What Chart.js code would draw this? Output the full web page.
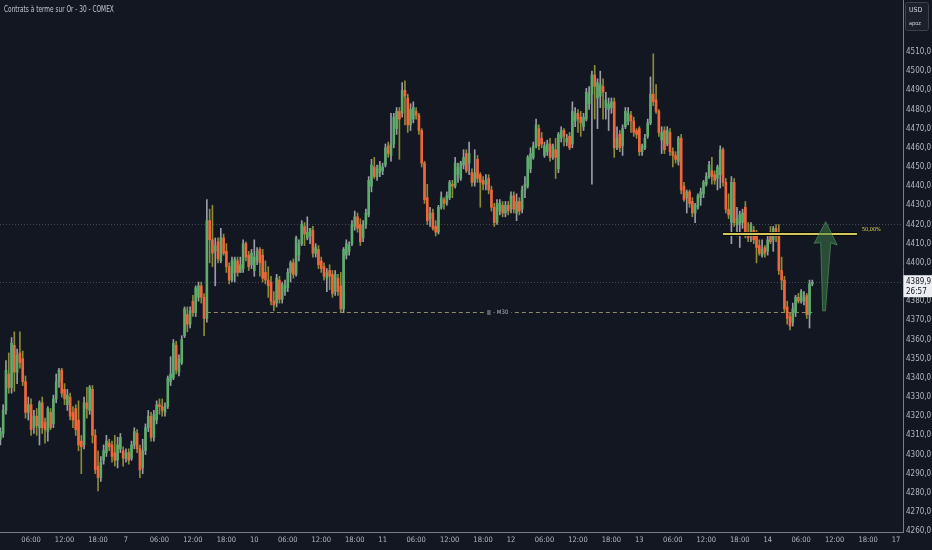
<!DOCTYPE html>
<html>
<head>
<meta charset="utf-8">
<script src="https://cdn.jsdelivr.net/npm/chart.js@4.4.1/dist/chart.umd.min.js"></script>
<style>
  html, body { margin: 0; padding: 0; background: #131722; }
  #wrap { position: relative; width: 932px; height: 550px; }
  #title {
    position: absolute; left: 4px; top: 5px;
    font: 8px "Liberation Sans Narrow", "DejaVu Sans Condensed", "Roboto", sans-serif;
    color: #c3c6ce;
    transform: scaleX(0.81);
    transform-origin: left top;
    white-space: nowrap;
  }
</style>
</head>
<body>
<div id="wrap">
  <canvas id="gold" width="932" height="550"></canvas>
  <div id="title">Contrats à terme sur Or - 30 - COMEX</div>
</div>
<script>
// 30 min candles, index 0 = first bar of the "6" session (46 bars per session)
var opens = [
  4315,4308,4311,4323,4342,4335,4357,4343,4353,4350, 4338,4322,4326,4314,4320,4314,4327,4317,4312,4322,
  4316,4329,4338,4344,4334,4326,4330,4322,4324,4318, 4307,4305,4327,4323,4334,4310,4294,4288,4297,4301,
  4306,4305,4301,4297,4303,4302,4298,4301,4298,4305, 4311,4303,4293,4302,4314,4320,4309,4318,4326,4325,
  4322,4325,4338,4340,4357,4343,4348,4362,4373,4368, 4380,4374,4382,4388,4382,4371,4422,4412,4406,4411,
  4401,4413,4406,4398,4391,4395,4401,4395,4397,4410, 4404,4399,4396,4401,4407,4404,4395,4391,4390,4380,
  4379,4391,4381,4385,4387,4395,4400,4394,4404,4410, 4419,4413,4414,4417,4405,4407,4401,4398,4392,4396,
  4394,4385,4392,4388,4376,4404,4406,4410,4419,4424, 4420,4413,4420,4425,4440,4450,4445,4447,4448,4451,
  4461,4456,4462,4470,4479,4478,4490,4486,4472,4475, 4479,4477,4469,4452,4434,4423,4426,4419,4416,4429,
  4433,4431,4434,4441,4440,4446,4444,4451,4457,4452, 4447,4442,4454,4446,4443,4441,4444,4438,4429,4421,
  4427,4430,4426,4430,4428,4435,4426,4432,4428,4438, 4440,4449,4455,4461,4470,4465,4456,4458,4462,4455,
  4459,4449,4465,4469,4463,4466,4462,4474,4478,4476, 4471,4475,4483,4488,4498,4486,4487,4492,4481,4480,
  4481,4484,4460,4467,4461,4471,4474,4477,4474,4469, 4470,4458,4460,4466,4473,4488,4485,4479,4464,4469,
  4462,4468,4458,4456,4453,4465,4440,4434,4437,4432, 4426,4429,4434,4436,4441,4445,4448,4446,4444,4446,
  4459,4442,4428,4421,4442,4420,4420,4421,4429,4416, 4414,4417,4415,4409,4404,4408,4406,4416,4412,4418,
  4416,4396,4391,4377,4372,4369,4374,4382,4380,4380, 4383,4373,4389
];
var highs = [
  4318,4314,4326,4349,4353,4361,4364,4355,4364,4354, 4341,4330,4329,4323,4324,4328,4330,4319,4325,4324,
  4331,4342,4345,4345,4337,4334,4332,4325,4326,4328, 4310,4330,4335,4336,4336,4313,4302,4299,4305,4310,
  4308,4307,4310,4309,4311,4304,4303,4303,4307,4314, 4313,4305,4308,4316,4323,4322,4323,4328,4329,4329,
  4327,4341,4351,4360,4359,4352,4362,4377,4377,4377, 4383,4388,4390,4390,4384,4433,4428,4430,4413,4413,
  4418,4415,4410,4400,4403,4403,4403,4403,4412,4411, 4406,4407,4412,4408,4408,4407,4401,4398,4393,4385,
  4394,4393,4390,4391,4397,4401,4402,4414,4412,4422, 4421,4424,4418,4419,4410,4409,4403,4400,4397,4399,
  4396,4396,4394,4395,4408,4412,4411,4422,4427,4426, 4423,4422,4428,4445,4454,4455,4451,4453,4452,4462,
  4463,4478,4478,4481,4481,4494,4495,4488,4483,4484, 4481,4478,4470,4453,4441,4429,4428,4422,4430,4437,
  4434,4437,4443,4443,4455,4452,4453,4459,4459,4463, 4449,4459,4456,4447,4445,4446,4446,4440,4431,4433,
  4433,4432,4432,4432,4437,4437,4436,4434,4440,4445, 4456,4460,4463,4475,4472,4468,4463,4464,4465,4462,
  4465,4468,4471,4470,4467,4468,4484,4481,4480,4479, 4478,4491,4492,4500,4503,4496,4500,4496,4489,4486,
  4486,4486,4471,4469,4472,4481,4481,4479,4476,4470, 4471,4462,4467,4475,4497,4509,4493,4480,4471,4471,
  4471,4470,4460,4458,4466,4467,4442,4438,4438,4434, 4431,4436,4439,4443,4447,4453,4455,4448,4451,4461,
  4460,4444,4436,4445,4444,4429,4427,4428,4432,4421, 4421,4419,4417,4412,4412,4409,4414,4419,4419,4420,
  4420,4403,4393,4380,4374,4379,4383,4384,4386,4385, 4384,4391,4391
];
var lows = [
  4306,4305,4309,4321,4332,4332,4333,4337,4345,4336, 4319,4318,4310,4311,4310,4305,4311,4306,4307,4313,
  4314,4327,4335,4330,4326,4323,4318,4314,4310,4302, 4290,4303,4319,4321,4306,4290,4281,4286,4295,4299,
  4302,4296,4294,4293,4301,4294,4296,4295,4297,4303, 4301,4288,4290,4300,4312,4307,4307,4316,4321,4320,
  4320,4324,4336,4339,4342,4341,4347,4361,4364,4366, 4372,4372,4380,4379,4362,4369,4400,4398,4388,4400,
  4400,4404,4395,4389,4390,4390,4393,4395,4395,4401, 4396,4397,4393,4399,4393,4390,4389,4382,4378,4375,
  4377,4379,4379,4383,4385,4390,4392,4393,4401,4409, 4409,4412,4410,4403,4403,4397,4395,4391,4385,4386,
  4382,4383,4383,4374,4374,4402,4404,4409,4417,4416, 4409,4411,4418,4424,4437,4444,4443,4445,4446,4450,
  4455,4453,4460,4467,4454,4476,4472,4468,4469,4473, 4475,4467,4450,4431,4420,4419,4417,4414,4415,4428,
  4428,4430,4433,4434,4439,4442,4443,4449,4447,4446, 4440,4440,4442,4429,4438,4438,4436,4427,4419,4420,
  4425,4424,4424,4425,4426,4426,4422,4425,4426,4434, 4439,4447,4454,4460,4459,4460,4455,4456,4453,4454,
  4444,4447,4463,4461,4461,4459,4460,4471,4468,4466, 4469,4474,4480,4441,4475,4470,4481,4475,4475,4469,
  4478,4455,4459,4458,4456,4470,4472,4468,4466,4465, 4456,4456,4459,4465,4472,4482,4478,4466,4457,4457,
  4461,4456,4450,4452,4451,4436,4432,4426,4429,4424, 4421,4428,4430,4434,4440,4444,4441,4441,4438,4439,
  4440,4426,4423,4410,4419,4414,4408,4418,4413,4411, 4411,4410,4400,4404,4403,4403,4404,4410,4406,4411,
  4394,4386,4374,4368,4365,4367,4372,4379,4379,4378, 4371,4366,4388
];
var closes = [
  4310,4312,4323,4344,4335,4358,4343,4352,4348,4338, 4322,4326,4313,4320,4315,4327,4314,4313,4324,4314,
  4329,4338,4344,4332,4329,4331,4320,4318,4313,4305, 4304,4327,4324,4335,4310,4292,4288,4296,4302,4307,
  4304,4299,4297,4305,4309,4298,4301,4297,4305,4312, 4303,4292,4302,4314,4320,4309,4321,4326,4325,4323,
  4325,4340,4342,4358,4344,4350,4360,4376,4368,4375, 4374,4387,4388,4382,4371,4422,4412,4405,4409,4402,
  4413,4405,4398,4391,4401,4402,4395,4399,4410,4403, 4398,4405,4403,4406,4400,4392,4391,4388,4380,4378,
  4392,4381,4389,4388,4395,4400,4394,4413,4410,4420, 4415,4416,4418,4405,4408,4399,4397,4393,4395,4393,
  4384,4394,4385,4376,4407,4410,4409,4420,4424,4418, 4411,4420,4426,4443,4451,4445,4449,4451,4450,4460,
  4457,4462,4476,4479,4475,4490,4487,4472,4480,4481, 4477,4469,4452,4433,4422,4426,4418,4416,4429,4434,
  4431,4435,4442,4440,4452,4450,4452,4455,4448,4457, 4442,4447,4444,4442,4441,4443,4438,4429,4421,4431,
  4431,4426,4430,4427,4435,4428,4432,4427,4438,4441, 4455,4457,4461,4472,4461,4462,4461,4462,4455,4461,
  4455,4467,4469,4466,4465,4460,4479,4478,4475,4473, 4476,4489,4488,4498,4492,4494,4493,4489,4485,4483,
  4484,4460,4465,4460,4470,4479,4478,4474,4468,4467, 4458,4461,4465,4473,4488,4484,4479,4468,4468,4459,
  4469,4458,4456,4454,4465,4438,4433,4437,4431,4426, 4430,4435,4437,4442,4445,4451,4445,4443,4450,4459,
  4442,4428,4425,4442,4421,4423,4425,4426,4415,4413, 4420,4412,4408,4405,4407,4405,4412,4411,4418,4414,
  4396,4391,4376,4371,4367,4376,4382,4380,4385,4382, 4373,4389,4389.9
];

// time axis: each session label sits on its first bar, hours 12/24/36 bars later
var sessionDays = ['6', '7', '10', '11', '12', '13', '14', '17'];
var hourLabels = ['06:00', '12:00', '18:00'];
var hourOffsets = [12, 24, 36];
var barsPerSession = 46;

var yTickValues = [4260, 4270, 4280, 4290, 4300, 4310, 4320, 4330, 4340, 4350, 4360, 4370, 4380,
  4390, 4400, 4410, 4420, 4430, 4440, 4450, 4460, 4470, 4480, 4490, 4500, 4510];

// drawings on the chart
var lastPrice = 4389.9;
var countdown = '26:57';
var dottedLevels = [4420, lastPrice];
var m30Level = 4374.4, m30From = 75, m30To = 292, m30LabelAt = 177.6;
var fibLevel = 4415, fibFrom = 260, fibTo = 308, fibText = '50,00%';
var arrowShape = [[296.8, 4421.5], [300.9, 4409.3], [298.6, 4410.5], [296.7, 4374.9],
  [295.7, 4374.9], [295.0, 4410.5], [292.7, 4410.2]];

var narrow = '"Liberation Sans Narrow", "DejaVu Sans Condensed", "Roboto", sans-serif';
var upColor = '#5eab6c', downColor = '#ef663b';
var upWick = '#9a9da6', downWick = '#8e8a34';

var xMin = 0.86, xMax = 324.5;

var tickLabels = {};
sessionDays.forEach(function (d, k) {
  tickLabels[k * barsPerSession] = d;
  hourOffsets.forEach(function (off, j) {
    tickLabels[k * barsPerSession + off] = hourLabels[j];
  });
});
var xTicks = Object.keys(tickLabels).map(Number).filter(function (v) {
  return v >= xMin && v <= xMax;
});

var bodies = closes.map(function (c, i) { return {x: i, y: [opens[i], c]}; });
var wicks = closes.map(function (c, i) { return {x: i, y: [lows[i], highs[i]]}; });

function isUp(i) { return closes[i] >= opens[i]; }

var chartOverlays = {
    id: 'chartOverlays',
    beforeDatasetsDraw: function (chart) {
        var ctx = chart.ctx, a = chart.chartArea, x = chart.scales.x, y = chart.scales.y;
        ctx.save();
        ctx.lineWidth = 1;
        ctx.strokeStyle = 'rgba(120,123,134,0.5)';
        ctx.setLineDash([1, 2]);
        dottedLevels.forEach(function (v) {
            var py = Math.round(y.getPixelForValue(v)) + 0.5;
            ctx.beginPath();
            ctx.moveTo(a.left, py);
            ctx.lineTo(a.right, py);
            ctx.stroke();
        });

        // M30 level, dashed
        var my = Math.round(y.getPixelForValue(m30Level)) + 0.5;
        ctx.strokeStyle = '#8d8c66';
        ctx.setLineDash([4, 3]);
        ctx.beginPath();
        ctx.moveTo(x.getPixelForValue(m30From), my);
        ctx.lineTo(x.getPixelForValue(m30To), my);
        ctx.stroke();
        ctx.setLineDash([]);

        var lx = x.getPixelForValue(m30LabelAt);
        ctx.font = '6px ' + narrow;
        var txt = '- M30';
        var tw = ctx.measureText(txt).width;
        ctx.fillStyle = '#131722';
        ctx.fillRect(lx - 8, my - 4, tw + 11, 8);
        ctx.fillStyle = '#5d606b';
        ctx.fillRect(lx - 6, my - 2.5, 3.5, 5);
        ctx.fillStyle = '#b2b5be';
        ctx.textAlign = 'left';
        ctx.textBaseline = 'middle';
        ctx.fillText(txt, lx, my);
        ctx.restore();
    },
    afterDatasetsDraw: function (chart) {
        var ctx = chart.ctx, x = chart.scales.x, y = chart.scales.y;
        ctx.save();
        var fy = Math.round(y.getPixelForValue(fibLevel));
        var fx1 = x.getPixelForValue(fibFrom), fx2 = x.getPixelForValue(fibTo);
        ctx.strokeStyle = '#07090d';
        ctx.lineWidth = 4;
        ctx.beginPath(); ctx.moveTo(fx1, fy); ctx.lineTo(fx2, fy); ctx.stroke();
        ctx.strokeStyle = '#d2c95c';
        ctx.lineWidth = 2;
        ctx.beginPath(); ctx.moveTo(fx1, fy); ctx.lineTo(fx2, fy); ctx.stroke();
        ctx.font = '5.5px ' + narrow;
        ctx.fillStyle = '#e3d35a';
        ctx.textAlign = 'left';
        ctx.textBaseline = 'alphabetic';
        ctx.fillText(fibText, fx2 + 5, fy - 3);

        // big green arrow
        ctx.beginPath();
        arrowShape.forEach(function (p, k) {
            var px = x.getPixelForValue(p[0]), py = y.getPixelForValue(p[1]);
            if (k) ctx.lineTo(px, py); else ctx.moveTo(px, py);
        });
        ctx.closePath();
        ctx.fillStyle = 'rgba(64,132,74,0.5)';
        ctx.fill();
        ctx.strokeStyle = 'rgba(86,160,96,0.6)';
        ctx.lineWidth = 1;
        ctx.stroke();
        ctx.restore();
    },
    afterDraw: function (chart) {
        var ctx = chart.ctx, y = chart.scales.y;
        var py = y.getPixelForValue(lastPrice);
        ctx.save();
        ctx.fillStyle = '#eceef2';
        ctx.fillRect(y.left + 0.5, py - 7, y.width, 22);
        ctx.fillStyle = '#131722';
        ctx.font = '8px ' + narrow;
        ctx.textAlign = 'left';
        ctx.textBaseline = 'middle';
        ctx.fillText(lastPrice.toFixed(1).replace('.', ','), y.left + 3, py);
        ctx.fillText(countdown, y.left + 3, py + 10);

        // currency / unit box
        ctx.fillStyle = '#1c202b';
        ctx.strokeStyle = '#3d414c';
        ctx.lineWidth = 1;
        ctx.beginPath();
        ctx.roundRect(905.5, 2.5, 23, 28, 2);
        ctx.fill();
        ctx.stroke();
        ctx.fillStyle = '#d1d4dc';
        ctx.font = '7px ' + narrow;
        ctx.fillText('USD', 909, 10);
        ctx.font = '5.5px ' + narrow;
        ctx.fillText('apoz', 909, 24);
        ctx.restore();
    }
};

new Chart(document.getElementById('gold'), {
    type: 'bar',
    data: {
        datasets: [
            {
                label: 'Corps',
                data: bodies,
                backgroundColor: function (c) { return isUp(c.dataIndex || 0) ? upColor : downColor; },
                barThickness: 2,
                maxBarThickness: 2,
                minBarLength: 1,
                grouped: false,
                borderWidth: 0,
                order: 0
            },
            {
                label: 'Mèches',
                data: wicks,
                backgroundColor: function (c) { return isUp(c.dataIndex || 0) ? upWick : downWick; },
                barThickness: 1,
                maxBarThickness: 1,
                grouped: false,
                borderWidth: 0,
                order: 1
            }
        ]
    },
    options: {
        responsive: false,
        animation: false,
        layout: { padding: 0 },
        plugins: {
            legend: { display: false },
            tooltip: { enabled: false }
        },
        scales: {
            x: {
                type: 'linear',
                offset: false,
                min: xMin,
                max: xMax,
                afterFit: function (s) {
                    s.height = 18;
                    s.paddingLeft = 0;
                    s.paddingRight = 0;
                },
                afterBuildTicks: function (s) {
                    s.ticks = xTicks.map(function (v) { return {value: v}; });
                },
                ticks: {
                    autoSkip: false,
                    maxRotation: 0,
                    padding: 4,
                    color: '#b2b5be',
                    font: { family: narrow, size: 7.5 },
                    callback: function (v) { return tickLabels[v] || ''; }
                },
                grid: { display: false, drawTicks: false },
                border: { display: true, color: '#7a7d87' }
            },
            y: {
                type: 'linear',
                position: 'right',
                min: 4259.6,
                max: 4537.1,
                afterFit: function (s) {
                    s.width = 29;
                    s.paddingTop = 0;
                    s.paddingBottom = 0;
                },
                afterBuildTicks: function (s) {
                    s.ticks = yTickValues.map(function (v) { return {value: v}; });
                },
                ticks: {
                    padding: 3,
                    color: '#b2b5be',
                    font: { family: narrow, size: 8 },
                    callback: function (v) { return v.toFixed(1).replace('.', ','); }
                },
                grid: { display: false, drawTicks: false },
                border: { display: true, color: '#7a7d87' }
            }
        }
    },
    plugins: [chartOverlays]
});
</script>
</body>
</html>
